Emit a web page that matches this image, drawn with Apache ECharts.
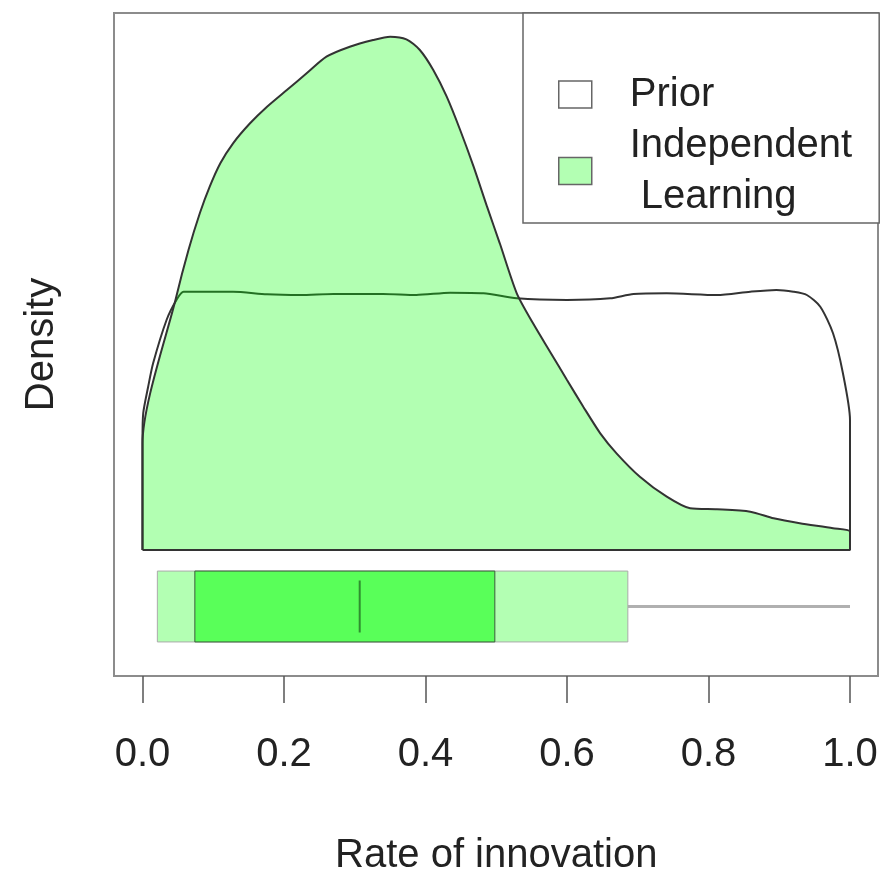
<!DOCTYPE html>
<html>
<head>
<meta charset="utf-8">
<script src="https://cdn.jsdelivr.net/npm/echarts@6/dist/echarts.min.js"></script>
<style>
html,body{margin:0;padding:0;background:#fff;}
#chart{width:884px;height:871px;}
</style>
</head>
<body>
<div id="chart"></div>
<script>
// ---- Data ----
const seriesNames = ['Prior', 'Independent\n Learning'];
// Prior density curve (x, density)
const priorX = [0, 0, 0.001, 0.008, 0.015, 0.034, 0.048, 0.058, 0.128, 0.176, 0.223, 0.270, 0.340, 0.387, 0.435, 0.482, 0.529, 0.600, 0.661, 0.694, 0.741, 0.812, 0.859, 0.896, 0.920, 0.939, 0.958, 0.976, 0.990, 1.0, 1.0];
const priorY = [0, 1.10, 1.367, 1.633, 1.867, 2.30, 2.50, 2.583, 2.583, 2.557, 2.55, 2.56, 2.56, 2.55, 2.573, 2.567, 2.517, 2.50, 2.517, 2.56, 2.567, 2.55, 2.583, 2.60, 2.583, 2.55, 2.433, 2.167, 1.767, 1.30, 0];
// Posterior (Independent Learning) density curve
const postX = [0, 0, 0.048, 0.065, 0.081, 0.095, 0.110, 0.128, 0.152, 0.176, 0.204, 0.232, 0.260, 0.293, 0.326, 0.350, 0.373, 0.392, 0.411, 0.430, 0.449, 0.468, 0.487, 0.505, 0.529, 0.552, 0.576, 0.600, 0.623, 0.647, 0.670, 0.703, 0.741, 0.774, 0.812, 0.859, 0.892, 0.929, 0.976, 1.0, 1.0, 0];
const postY = [0, 1.067, 2.54, 3.00, 3.367, 3.633, 3.867, 4.067, 4.267, 4.433, 4.60, 4.767, 4.933, 5.033, 5.10, 5.133, 5.107, 5.00, 4.80, 4.533, 4.20, 3.833, 3.433, 3.067, 2.567, 2.267, 1.983, 1.70, 1.433, 1.167, 0.967, 0.733, 0.533, 0.417, 0.407, 0.383, 0.317, 0.267, 0.217, 0.183, 0, 0];
// Interval summary (box) of the posterior
const outerInterval = [0.021, 0.686];
const innerInterval = [0.074, 0.498];
const medianValue = 0.307;
const whiskerRange = [0.686, 1.0];
const xTitle = 'Rate of innovation';
const yTitle = 'Density';

const FONT = "'Liberation Sans', Arial, Helvetica, sans-serif";
const zip = (a, b) => a.map((v, i) => [v, b[i]]);

const chart = echarts.init(document.getElementById('chart'), null, {renderer: 'canvas'});
const option = {
  animation: false,
  backgroundColor: '#fff',
  textStyle: {fontFamily: FONT},
  grid: [
    {left: 114, top: 13, width: 764, height: 663, show: true, borderColor: '#8c8c8c', borderWidth: 2, backgroundColor: 'transparent', containLabel: false, outerBoundsMode: 'none'},
    {left: 142.5, top: 13, width: 707.5, height: 537, containLabel: false, outerBoundsMode: 'none'},
    {left: 142.5, top: 537, width: 707.5, height: 139, containLabel: false, outerBoundsMode: 'none'}
  ],
  xAxis: [
    {gridIndex: 0, type: 'value', show: false, min: 0, max: 1},
    {gridIndex: 1, type: 'value', min: 0, max: 1, show: false},
    {gridIndex: 2, type: 'value', min: 0, max: 1, interval: 0.2, position: 'bottom',
      axisLine: {show: false},
      axisTick: {show: true, length: 27, lineStyle: {color: '#555', width: 1.5}},
      axisLabel: {show: true, fontSize: 40, lineHeight: 40, margin: 59, color: '#222', fontFamily: FONT,
        formatter: v => v.toFixed(1)},
      splitLine: {show: false},
      name: xTitle, nameLocation: 'middle', nameGap: 160,
      nameTextStyle: {fontSize: 40, lineHeight: 40, color: '#222', fontFamily: FONT}
    }
  ],
  yAxis: [
    {gridIndex: 0, type: 'value', min: 0, max: 1, show: true,
      axisLine: {show: false}, axisTick: {show: false}, axisLabel: {show: false}, splitLine: {show: false},
      name: yTitle, nameLocation: 'middle', nameGap: 52,
      nameTextStyle: {fontSize: 40, lineHeight: 40, color: '#222', fontFamily: FONT}
    },
    {gridIndex: 1, type: 'value', min: 0, max: 5.37, show: false},
    {gridIndex: 2, type: 'category', data: ['Independent Learning'], show: false}
  ],
  legend: {
    show: true,
    orient: 'vertical',
    left: 523, top: 13,
    padding: [56, 27, 1, 35],
    itemGap: 0,
    itemWidth: 33, itemHeight: 27,
    borderColor: '#666', borderWidth: 1.5,
    backgroundColor: '#fff',
    selectedMode: false,
    textStyle: {fontSize: 40, lineHeight: 51, color: '#222', fontFamily: FONT, padding: [0, 0, 0, 33]},
    data: [
      {name: seriesNames[0], icon: 'rect', itemStyle: {color: '#fff', borderColor: '#666', borderWidth: 1.5}},
      {name: seriesNames[1], icon: 'rect', itemStyle: {color: '#b3ffb3', borderColor: '#666', borderWidth: 1.5}}
    ]
  },
  series: [
    {
      name: seriesNames[0], type: 'line', xAxisIndex: 1, yAxisIndex: 1,
      data: zip(priorX, priorY), showSymbol: false, smooth: 0.25, clip: false, z: 2,
      lineStyle: {color: '#333', width: 2},
      itemStyle: {color: '#fff', borderColor: '#666'},
      areaStyle: {color: '#fff', opacity: 1}
    },
    {
      name: seriesNames[1], type: 'line', xAxisIndex: 1, yAxisIndex: 1,
      data: zip(postX, postY), showSymbol: false, smooth: 0.25, clip: false, z: 3,
      lineStyle: {color: '#333', width: 2},
      itemStyle: {color: '#b3ffb3', borderColor: '#666'},
      areaStyle: {color: 'rgba(0,255,0,0.3)', opacity: 1}
    },
    {
      name: 'interval', type: 'custom', xAxisIndex: 2, yAxisIndex: 2, z: 4,
      data: [[outerInterval[0], innerInterval[0], medianValue, innerInterval[1], outerInterval[1], whiskerRange[0], whiskerRange[1], 0]],
      renderItem: function (params, api) {
        const cat = api.value(7);
        const band = api.size([0, 1])[1];
        const c = api.coord([0, cat])[1];
        const X = i => api.coord([api.value(i), cat])[0];
        const boxH = band * 0.51, medH = band * 0.374;
        return {
          type: 'group',
          children: [
            {type: 'line', shape: {x1: X(5), y1: c, x2: X(6), y2: c}, style: {stroke: '#b0b0b0', lineWidth: 3}},
            {type: 'rect', shape: {x: X(0), y: c - boxH / 2, width: X(4) - X(0), height: boxH}, style: {fill: '#b3ffb3', stroke: '#aaaaaa', lineWidth: 1}},
            {type: 'rect', shape: {x: X(1), y: c - boxH / 2, width: X(3) - X(1), height: boxH}, style: {fill: '#59ff59', stroke: '#3d5c3d', lineWidth: 1}},
            {type: 'line', shape: {x1: X(2), y1: c - medH / 2, x2: X(2), y2: c + medH / 2}, style: {stroke: '#2f8f2f', lineWidth: 2}}
          ]
        };
      }
    }
  ]
};
chart.setOption(option);
</script>
</body>
</html>
